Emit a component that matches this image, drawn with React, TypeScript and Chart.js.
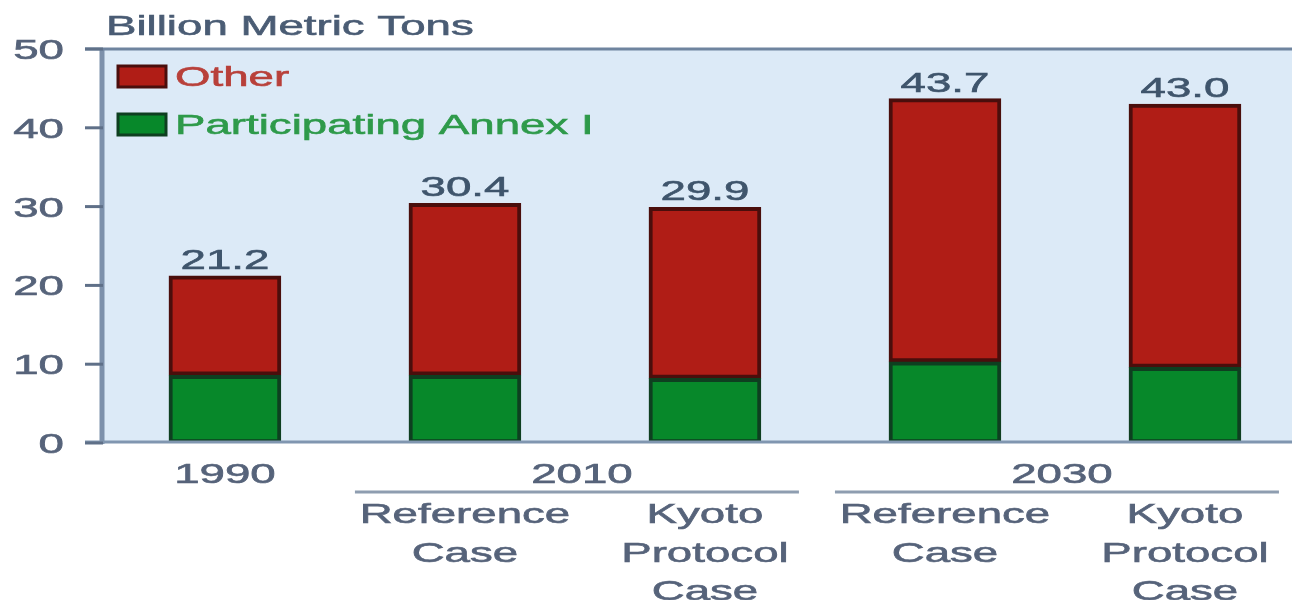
import React, { useEffect, useRef } from "react";
import { Chart, registerables } from "chart.js";

Chart.register(...registerables);

// ---- data ----
const positions = [0, 1, 2, 3, 4];
const annexValues = [8.6, 8.6, 8.2, 10.3, 9.6];
const otherValues = [12.6, 21.8, 21.7, 33.4, 33.4];
const yTicks = [0, 10, 20, 30, 40, 50];
const yearGroups = [
  { text: "1990", from: 0, to: 0, underline: false },
  { text: "2010", from: 1, to: 2, underline: true },
  { text: "2030", from: 3, to: 4, underline: true },
];
const caseLabels = [
  [],
  ["Reference", "Case"],
  ["Kyoto", "Protocol", "Case"],
  ["Reference", "Case"],
  ["Kyoto", "Protocol", "Case"],
];
const unitLabel = "Billion Metric Tons";
const seriesNames = ["Participating Annex I", "Other"];

const FONT = '28px "Liberation Sans", Arial, sans-serif';
const SX = 1.63;

function sText(
  ctx: CanvasRenderingContext2D,
  text: string,
  x: number,
  y: number,
  align: CanvasTextAlign,
  color: string
) {
  ctx.save();
  ctx.translate(x, y);
  ctx.scale(SX, 1);
  ctx.font = FONT;
  ctx.textAlign = align;
  ctx.textBaseline = "alphabetic";
  ctx.fillStyle = color;
  ctx.fillText(text, 0, 0);
  ctx.strokeStyle = color;
  ctx.lineWidth = 0.6;
  ctx.strokeText(text, 0, 0);
  ctx.restore();
}

const decorPlugin = {
  id: "decor",
  beforeDraw(chart: any) {
    const { ctx, chartArea, width, height } = chart;
    ctx.save();
    ctx.fillStyle = "#ffffff";
    ctx.fillRect(0, 0, width, height);
    ctx.fillStyle = "#dceaf7";
    ctx.fillRect(chartArea.left, chartArea.top, chartArea.right - chartArea.left, chartArea.bottom - chartArea.top);
    ctx.restore();
  },
  afterDatasetsDraw(chart: any) {
    const { ctx, chartArea, width } = chart;
    const xs = chart.scales.x;
    const ys = chart.scales.y;
    const axisColor = "#7d91ab";
    const tickColor = "#56637a";
    ctx.save();
    // left axis
    ctx.strokeStyle = axisColor;
    ctx.lineWidth = 5;
    ctx.beginPath();
    ctx.moveTo(chartArea.left - 1, ys.getPixelForValue(50) - 1);
    ctx.lineTo(chartArea.left - 1, ys.getPixelForValue(0) + 1);
    ctx.stroke();
    // top and bottom lines
    ctx.lineWidth = 3;
    ctx.strokeStyle = "#6f849f";
    ctx.beginPath();
    ctx.moveTo(chartArea.left - 18, ys.getPixelForValue(50));
    ctx.lineTo(width, ys.getPixelForValue(50));
    ctx.stroke();
    ctx.strokeStyle = "#8096b0";
    ctx.beginPath();
    ctx.moveTo(chartArea.left - 18, ys.getPixelForValue(0) - 1);
    ctx.lineTo(width, ys.getPixelForValue(0) - 1);
    ctx.stroke();
    // y ticks
    yTicks.forEach((t) => {
      const y = ys.getPixelForValue(t);
      ctx.strokeStyle = "#5f7088";
      ctx.lineWidth = 3;
      ctx.beginPath();
      ctx.moveTo(chartArea.left - 18, y);
      ctx.lineTo(chartArea.left, y);
      ctx.stroke();
      sText(ctx, String(t), 64, y + 10, "right", tickColor);
    });
    // unit label
    sText(ctx, unitLabel, 106, 35, "left", "#4a5c74");
    // legend (top series first)
    const legendRows = [1, 0];
    legendRows.forEach((di, r) => {
      const ds = chart.data.datasets[di];
      const cy = 76 + r * 48;
      ctx.fillStyle = ds.backgroundColor;
      ctx.fillRect(118, cy - 10, 48, 21);
      ctx.strokeStyle = ds.borderColor;
      ctx.lineWidth = 3;
      ctx.strokeRect(118, cy - 10, 48, 21);
      sText(ctx, ds.label, 175, cy + 10, "left", di === 1 ? "#b8403a" : "#2e9a4a");
    });
    // totals
    const topMeta = chart.getDatasetMeta(1);
    positions.forEach((p, i) => {
      const total = annexValues[i] + otherValues[i];
      const el = topMeta.data[i];
      sText(ctx, total.toFixed(1), el.x, el.y - 7, "center", "#3f556c");
    });
    // x labels
    yearGroups.forEach((g) => {
      const x1 = xs.getPixelForValue(positions[g.from]);
      const x2 = xs.getPixelForValue(positions[g.to]);
      sText(ctx, g.text, (x1 + x2) / 2 + (g.underline ? -3 : 0), 483, "center", tickColor);
      if (g.underline) {
        ctx.strokeStyle = "#8e9db0";
        ctx.lineWidth = 3;
        ctx.beginPath();
        ctx.moveTo(x1 - 110, 492);
        ctx.lineTo(x2 + 94, 492);
        ctx.stroke();
      }
    });
    caseLabels.forEach((lines, i) => {
      const x = xs.getPixelForValue(positions[i]);
      lines.forEach((ln, k) => {
        sText(ctx, ln, x, 523 + k * 38.5, "center", tickColor);
      });
    });
    ctx.restore();
  },
};

export default function App() {
  const ref = useRef<HTMLCanvasElement | null>(null);
  useEffect(() => {
    if (!ref.current) return;
    const chart = new Chart(ref.current, {
      type: "bar",
      data: {
        datasets: [
          {
            label: seriesNames[0],
            data: positions.map((p, i) => ({ x: p, y: annexValues[i] })),
            backgroundColor: "#07882a",
            borderColor: "#0e3f20",
            borderWidth: 4,
            borderSkipped: false,
            barThickness: 112,
          },
          {
            label: seriesNames[1],
            data: positions.map((p, i) => ({ x: p, y: otherValues[i] })),
            backgroundColor: "#b01d16",
            borderColor: "#4a0e0c",
            borderWidth: 4,
            borderSkipped: false,
            barThickness: 112,
          },
        ],
      },
      options: {
        responsive: false,
        animation: false,
        layout: { padding: { left: 103, top: 49, right: 0, bottom: 157 } },
        plugins: { legend: { display: false }, tooltip: { enabled: false } },
        scales: {
          x: { type: "linear", min: -0.508, max: 4.446, offset: false, stacked: true, display: false },
          y: { min: 0, max: 50, stacked: true, display: false },
        },
      },
      plugins: [decorPlugin],
    } as any);
    return () => chart.destroy();
  }, []);
  return (
    <div style={{ position: "fixed", left: 0, top: 0, width: 1292, height: 600 }}>
      <canvas ref={ref} width={1292} height={600} />
    </div>
  );
}
